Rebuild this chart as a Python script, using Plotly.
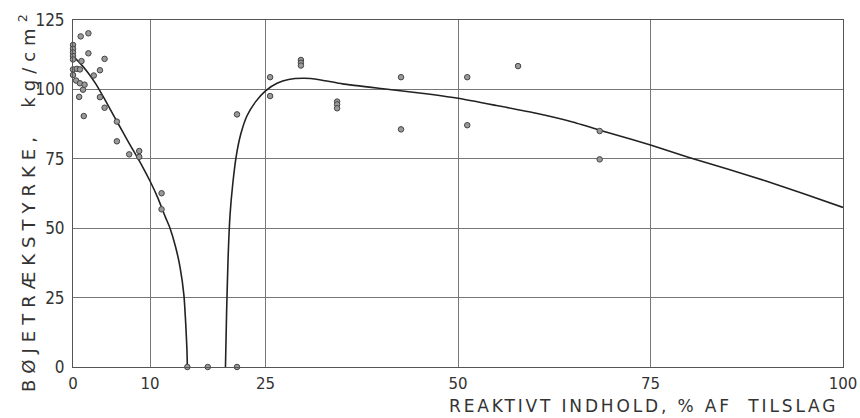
import plotly.graph_objects as go

# Measured specimens: reactive content (%) vs. flexural strength (kg/cm²)
pt_x = [0, 0, 0, 0, 0, 0, 0,
        0.4, 0.5, 0.9, 0.9, 0.8, 1.0, 1.1, 1.3, 1.5, 1.4, 2.0, 2.0, 2.7,
        3.5, 3.5, 4.1, 4.1, 5.7, 5.7, 7.3, 8.6, 8.6, 11.5, 11.5,
        14.85, 17.5, 21.3, 21.3, 25.6, 25.6, 29.6, 29.6, 29.6,
        34.3, 34.3, 34.3, 42.6, 42.6, 51.2, 51.2, 57.8, 68.4, 68.4]
pt_y = [116, 114.6, 113.3, 112, 110.8, 107.2, 105.2,
        103.2, 107.4, 107.2, 102.2, 97.3, 119.1, 110.2, 99.9, 101.7, 90.4, 120.2, 113.0, 105.0,
        106.9, 97.2, 111.0, 93.4, 88.4, 81.3, 76.6, 77.8, 75.7, 62.6, 56.8,
        0, 0, 0, 91.0, 104.4, 97.6, 110.6, 109.6, 108.6,
        95.6, 94.6, 93.2, 104.4, 85.6, 104.4, 87.1, 108.4, 85.0, 74.8]

# Fitted curve, low reactive content branch
c1_x = [0, 1, 2, 3, 4, 5, 6, 7, 8, 9, 10, 11, 12, 12.6, 13.3, 13.9, 14.4, 14.65, 14.8, 14.85]
c1_y = [112, 109.2, 105.8, 101.8, 97, 92, 87, 82, 77.2, 72.3, 67, 61, 54, 50, 43.5, 36, 26, 15, 6, 0]

# Fitted curve, high reactive content branch
c2_x = [19.8, 19.95, 20.15, 20.4, 20.75, 21.2, 21.8, 22.6, 23.7, 25, 26.5, 28, 30, 32, 35,
        40, 45, 50, 55, 60, 65, 70, 75, 80, 85, 90, 95, 100]
c2_y = [0, 20, 40, 55, 66, 76, 84, 90.5, 95.5, 99.5, 102.2, 103.6, 104, 103.5, 102,
        100.3, 98.7, 96.8, 94.2, 91.5, 88.2, 84, 80, 75.5, 71.3, 67, 62.3, 57.5]

x_ticks = [0, 10, 25, 50, 75, 100]
y_ticks = [0, 25, 50, 75, 100, 125]

NB = "\u00a0"
y_title = "BØJETRÆKSTYRKE," + NB * 2 + "kg/cm<sup>2</sup>"
x_title = NB.join(["REAKTIVT", "INDHOLD,", "%", "AF", "", "TILSLAG"])

fig = go.Figure()
for cx, cy in ((c1_x, c1_y), (c2_x, c2_y)):
    fig.add_trace(go.Scatter(x=cx, y=cy, mode="lines",
                             line=dict(color="#222", width=1.6, shape="spline", smoothing=0.5),
                             hoverinfo="skip", showlegend=False, cliponaxis=False))
fig.add_trace(go.Scatter(x=pt_x, y=pt_y, mode="markers",
                         marker=dict(size=5.5, color="#9a9a9a", line=dict(color="#444", width=1)),
                         showlegend=False, cliponaxis=False))

grid = "#777"
fig.update_layout(
    width=860, height=418,
    margin=dict(l=73, r=17, t=20, b=51, autoexpand=False),
    paper_bgcolor="white", plot_bgcolor="white",
    xaxis=dict(range=[0, 100], tickvals=x_ticks, ticktext=[str(v) for v in x_ticks],
               automargin=False,
               showgrid=True, gridcolor=grid, gridwidth=1, zeroline=False,
               showline=True, mirror=True, linecolor="#555", linewidth=1,
               ticks="outside", ticklen=3, tickcolor="rgba(0,0,0,0)",
               tickfont=dict(family="DejaVu Sans", size=15, color="#333")),
    yaxis=dict(range=[0, 125], tickvals=y_ticks, ticktext=[str(v) for v in y_ticks],
               automargin=False,
               showgrid=True, gridcolor=grid, gridwidth=1, zeroline=False,
               showline=True, mirror=True, linecolor="#555", linewidth=1,
               ticks="outside", ticklen=4, tickcolor="rgba(0,0,0,0)",
               tickfont=dict(family="Liberation Sans Narrow, DejaVu Sans Condensed, sans-serif",
                             size=17, color="#333")),
    annotations=[
        dict(text=y_title, textangle=-90, align="left",
             xref="paper", yref="paper", x=(27 - 73) / 770, y=(367 - 394) / 347,
             xanchor="center", yanchor="bottom", showarrow=False,
             font=dict(family="DejaVu Sans", size=18, color="#333")),
        dict(text=x_title, align="left",
             xref="paper", yref="paper", x=(447 - 73) / 770, y=(367 - 406) / 347,
             xanchor="left", yanchor="middle", showarrow=False,
             font=dict(family="DejaVu Sans", size=17, color="#333")),
    ],
)

# Widen the letter spacing of the two axis captions (lettering-stencil look)
spacing_js = """
var notes = document.querySelectorAll('.annotation-text');
if (notes.length > 0) { notes[0].style.letterSpacing = '6px'; }
if (notes.length > 1) { notes[1].style.letterSpacing = '2.85px'; }
"""

fig.write_html("out.html", post_script=spacing_js)
